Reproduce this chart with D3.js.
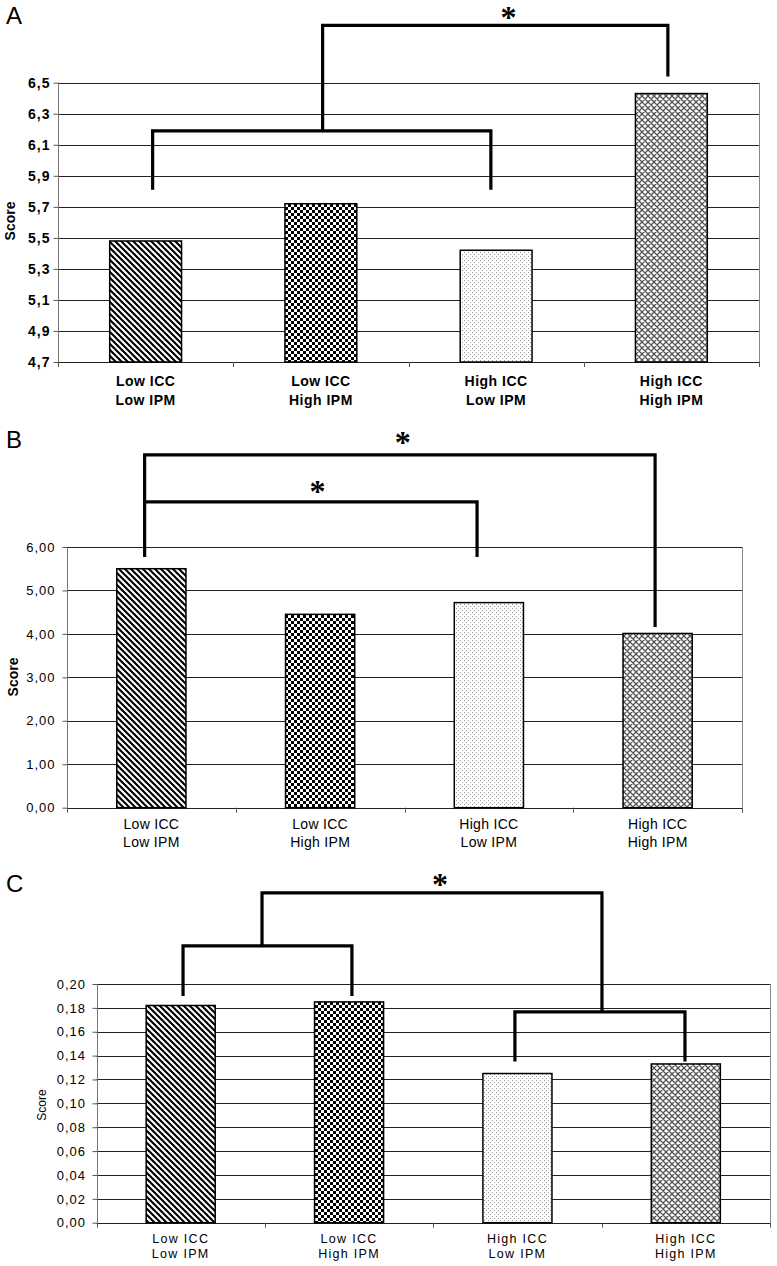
<!DOCTYPE html>
<html><head><meta charset="utf-8">
<script src="https://cdn.jsdelivr.net/npm/d3@7"></script>
<style>body{margin:0;background:#fff} svg{display:block}</style>
</head><body><svg id="c" width="777" height="1266"></svg>
<script>
// ---------- data ----------
const categoriesLine1 = ["Low ICC", "Low ICC", "High ICC", "High ICC"];
const categoriesLine2 = ["Low IPM", "High IPM", "Low IPM", "High IPM"];
const valuesA = [5.48, 5.72, 5.42, 6.43];
const valuesB = [5.50, 4.45, 4.72, 4.01];
const valuesC = [0.182, 0.185, 0.125, 0.133];
const ticksA = [4.7, 4.9, 5.1, 5.3, 5.5, 5.7, 5.9, 6.1, 6.3, 6.5];
const ticksB = [0, 1, 2, 3, 4, 5, 6];
const ticksC = [0, 0.02, 0.04, 0.06, 0.08, 0.10, 0.12, 0.14, 0.16, 0.18, 0.20];
// significance brackets: polylines of [category index, score]
const bracketsA = [
  [[0.04, 5.81], [0.04, 6.19], [1.97, 6.19], [1.97, 5.81]],
  [[1.01, 6.19], [1.01, 6.87], [2.98, 6.87], [2.98, 6.54]]
];
const starsA = [[2.07, 6.95]];
const bracketsB = [
  [[-0.04, 5.77], [-0.04, 8.12], [2.985, 8.12], [2.985, 4.16]],
  [[-0.04, 7.04], [1.93, 7.04], [1.93, 5.77]]
];
const starsB = [[0.985, 7.38], [1.49, 8.52]];
const bracketsC = [
  [[0.014, 0.19], [0.014, 0.232], [1.017, 0.232], [1.017, 0.19]],
  [[0.483, 0.232], [0.483, 0.2763], [2.502, 0.2763], [2.502, 0.1766]],
  [[1.985, 0.135], [1.985, 0.1766], [2.995, 0.1766], [2.995, 0.135]]
];
const starsC = [[1.54, 0.287]];
const panelLetters = ["A", "B", "C"];

// ---------- drawing ----------
const svg = d3.select("#c");
const defs = svg.append("defs");
const FONT = "'Liberation Sans', Arial, sans-serif";

// patterns
const p1 = defs.append("pattern").attr("id", "pat0").attr("patternUnits", "userSpaceOnUse").attr("width", 6).attr("height", 6);
p1.append("rect").attr("width", 6).attr("height", 6).attr("fill", "#fff");
p1.append("path").attr("d", "M-1,-1 L7,7 M-1,5 L1,7 M5,-1 L7,1").attr("stroke", "#000").attr("stroke-width", 2.1);

const p2 = defs.append("pattern").attr("id", "pat1").attr("patternUnits", "userSpaceOnUse").attr("width", 6).attr("height", 6);
p2.append("rect").attr("width", 6).attr("height", 6).attr("fill", "#fff");
p2.append("rect").attr("width", 3).attr("height", 3).attr("fill", "#000");
p2.append("rect").attr("x", 3).attr("y", 3).attr("width", 3).attr("height", 3).attr("fill", "#000");

const p3 = defs.append("pattern").attr("id", "pat2").attr("patternUnits", "userSpaceOnUse").attr("width", 4).attr("height", 4);
p3.append("rect").attr("width", 4).attr("height", 4).attr("fill", "#fff");
p3.append("rect").attr("width", 1).attr("height", 1).attr("fill", "#999");
p3.append("rect").attr("x", 2).attr("y", 2).attr("width", 1).attr("height", 1).attr("fill", "#999");

const p4 = defs.append("pattern").attr("id", "pat3").attr("patternUnits", "userSpaceOnUse").attr("width", 6).attr("height", 6);
p4.append("rect").attr("width", 6).attr("height", 6).attr("fill", "#fff");
p4.append("path").attr("d", "M-1,-1 L7,7 M-1,5 L1,7 M5,-1 L7,1 M-1,7 L7,-1 M-1,1 L1,-1 M5,7 L7,5").attr("stroke", "#555").attr("stroke-width", 1.3);

const panels = [
  { letter: panelLetters[0], letterY: 24, values: valuesA, ticks: ticksA, domain: [4.7, 6.5], fmt: v => d3.format(".1f")(v).replace(".", ","),
    x0: 58, x1: 759, yTop: 82.7, yBot: 362, bold: true, tickFont: 14, tickLS: 1, tickPad: 3,
    catFont: 14, catLS: 0.5, catY: [386, 405], catBold: true,
    scoreX: 10, scoreY: 221, scoreFont: 14, scoreBold: true,
    brackets: bracketsA, stars: starsA },
  { letter: panelLetters[1], letterY: 448, values: valuesB, ticks: ticksB, domain: [0, 6], fmt: v => d3.format(".2f")(v).replace(".", ","),
    x0: 67, x1: 742, yTop: 547, yBot: 807.7, bold: false, tickFont: 13, tickLS: 1, tickPad: 7,
    catFont: 14, catLS: 0.3, catY: [829, 847], catBold: false,
    scoreX: 13, scoreY: 677, scoreFont: 14, scoreBold: true,
    brackets: bracketsB, stars: starsB },
  { letter: panelLetters[2], letterY: 892, values: valuesC, ticks: ticksC, domain: [0, 0.2], fmt: v => d3.format(".2f")(v).replace(".", ","),
    x0: 96.5, x1: 770, yTop: 984, yBot: 1222.7, bold: false, tickFont: 13, tickLS: 1, tickPad: 6.5,
    catFont: 12.5, catLS: 1.3, catY: [1243, 1258], catBold: false,
    scoreX: 42, scoreY: 1105, scoreFont: 12, scoreBold: false,
    brackets: bracketsC, stars: starsC }
];

panels.forEach(P => {
  const g = svg.append("g");
  const y = d3.scaleLinear().domain(P.domain).range([P.yBot, P.yTop]);
  const xb = d3.scaleBand().domain(d3.range(P.values.length)).range([P.x0, P.x1]).paddingInner(0.59).paddingOuter(0.295);
  const xi = d3.scaleLinear().domain([-0.5, P.values.length - 0.5]).range([P.x0, P.x1]);

  // panel letter
  g.append("text").attr("x", 6).attr("y", P.letterY).text(P.letter)
    .attr("font-family", FONT).attr("font-size", 24).attr("fill", "#000");

  // gridlines
  g.append("g").selectAll("line").data(P.ticks).join("line")
    .attr("x1", P.x0).attr("x2", P.x1)
    .attr("y1", d => Math.round(y(d)) + 0.5).attr("y2", d => Math.round(y(d)) + 0.5)
    .attr("stroke", "#222").attr("stroke-width", 1);

  // right border
  g.append("line").attr("x1", Math.round(P.x1) + 0.5).attr("x2", Math.round(P.x1) + 0.5)
    .attr("y1", y(P.domain[1])).attr("y2", y(P.domain[0])).attr("stroke", "#888");

  // y axis
  const ax = g.append("g").attr("transform", `translate(${Math.round(P.x0) + 0.5},0)`)
    .call(d3.axisLeft(y).tickValues(P.ticks).tickFormat(P.fmt).tickSize(5).tickPadding(P.tickPad));
  ax.select(".domain").attr("stroke", "#777").attr("d", `M0,${y(P.domain[1])}V${y(P.domain[0])}`);
  ax.selectAll(".tick line").attr("stroke", "#555");
  ax.selectAll(".tick text").attr("font-family", FONT).attr("font-size", P.tickFont)
    .attr("font-weight", P.bold ? "bold" : "normal").attr("letter-spacing", P.tickLS).attr("fill", "#000");

  // x-axis ticks at category boundaries
  g.append("g").selectAll("line").data(d3.range(P.values.length + 1)).join("line")
    .attr("x1", i => Math.round(xi(i - 0.5)) + 0.5).attr("x2", i => Math.round(xi(i - 0.5)) + 0.5)
    .attr("y1", P.yBot).attr("y2", P.yBot + 5).attr("stroke", "#555");

  // bars
  g.append("g").selectAll("rect").data(P.values).join("rect")
    .attr("x", (d, i) => xb(i)).attr("width", xb.bandwidth())
    .attr("y", d => y(d)).attr("height", d => y(P.domain[0]) - y(d))
    .attr("fill", (d, i) => `url(#pat${i})`).attr("stroke", "#000").attr("stroke-width", 1.5);

  // category labels
  const cl = g.append("g").selectAll("text").data(P.values).join("text")
    .attr("text-anchor", "middle").attr("font-family", FONT).attr("font-size", P.catFont)
    .attr("font-weight", P.catBold ? "bold" : "normal").attr("letter-spacing", P.catLS).attr("fill", "#000");
  cl.append("tspan").attr("x", (d, i) => xb(i) + xb.bandwidth() / 2).attr("y", P.catY[0]).text((d, i) => categoriesLine1[i]);
  cl.append("tspan").attr("x", (d, i) => xb(i) + xb.bandwidth() / 2).attr("y", P.catY[1]).text((d, i) => categoriesLine2[i]);

  // y title
  g.append("text").attr("transform", `translate(${P.scoreX},${P.scoreY}) rotate(-90)`)
    .attr("text-anchor", "middle").attr("dominant-baseline", "central")
    .attr("font-family", FONT).attr("font-size", P.scoreFont).attr("font-weight", P.scoreBold ? "bold" : "normal")
    .text("Score");

  // brackets
  const line = d3.line().x(d => xi(d[0])).y(d => y(d[1]));
  g.append("g").selectAll("path").data(P.brackets).join("path")
    .attr("d", line).attr("fill", "none").attr("stroke", "#000").attr("stroke-width", 3.2)
    .attr("stroke-linejoin", "miter").attr("stroke-linecap", "butt");

  // stars
  g.append("g").selectAll("text").data(P.stars).join("text")
    .attr("x", d => xi(d[0])).attr("y", d => y(d[1]) + 15)
    .attr("text-anchor", "middle").attr("font-family", "'Liberation Serif', serif")
    .attr("font-weight", "bold").attr("font-size", 32).text("*");
});
</script>
</body></html>
